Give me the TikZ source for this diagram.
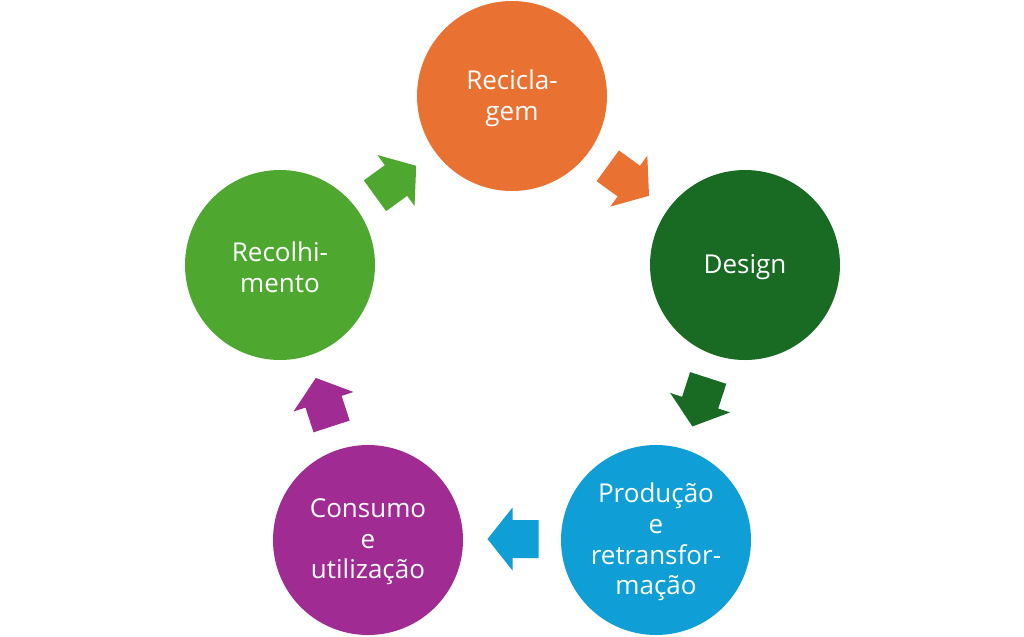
\documentclass[tikz,border=0pt]{standalone}
\usepackage{fontspec}
\setmainfont{Open Sans}
\definecolor{cOrange}{HTML}{E97132}
\definecolor{cDkGreen}{HTML}{196B24}
\definecolor{cBlue}{HTML}{0F9ED5}
\definecolor{cPurple}{HTML}{A02B93}
\definecolor{cGreen}{HTML}{4EA72E}
\tikzset{
  stage/.style={circle, draw=none, minimum size=142.5pt, inner sep=0pt, text=white,
    align=center, font=\fontsize{19.5}{23}\selectfont},
  blockarrow/.style={draw=none}
}
\newcommand{\cyclearrow}[4]{% name, position, angle, colour
  \begin{scope}[shift={#2}, rotate=#3]
    \coordinate (#1) at (0,0);
    \fill[blockarrow, #4] (-25.5,-19) -- (0.5,-19) -- (0.5,-31.5) -- (25.5,0)
      -- (0.5,31.5) -- (0.5,19) -- (-25.5,19) -- cycle;
  \end{scope}}
\begin{document}
\begin{tikzpicture}[x=0.75pt, y=-0.75pt]
  \useasboundingbox (0,0) rectangle (1024,636);
  \node[stage, fill=cOrange] (rec) at (512,96) {};
  \node[stage, fill=cDkGreen] (des) at (745,265) {};
  \node[stage, fill=cBlue] (pro) at (656,540) {};
  \node[stage, fill=cPurple] (con) at (368,540) {};
  \node[stage, fill=cGreen] (col) at (280,265) {};
  \node[stage, fill=none, minimum size=0pt] (recT) at ([yshift=-1.5pt]rec.center) {Recicla-\\gem};
  \node[stage, fill=none, minimum size=0pt] (desT) at ([yshift=-1.5pt]des.center) {Design};
  \node[stage, fill=none, minimum size=0pt] (proT) at ([yshift=-1.5pt]pro.center) {Produção\\e\\retransfor-\\mação};
  \node[stage, fill=none, minimum size=0pt] (conT) at ([yshift=-1.5pt]con.center) {Consumo\\e\\utilização};
  \node[stage, fill=none, minimum size=0pt] (colT) at ([yshift=-1.5pt]col.center) {Recolhi-\\mento};
  \cyclearrow{a1}{(628.4,180.8)}{-36}{cOrange}
  \cyclearrow{a2}{(700.3,402.2)}{-108}{cDkGreen}
  \cyclearrow{a3}{(513,539)}{180}{cBlue}
  \cyclearrow{a4}{(323.7,402.2)}{108}{cPurple}
  \cyclearrow{a5}{(395.6,180.8)}{36}{cGreen}
\end{tikzpicture}
\end{document}
